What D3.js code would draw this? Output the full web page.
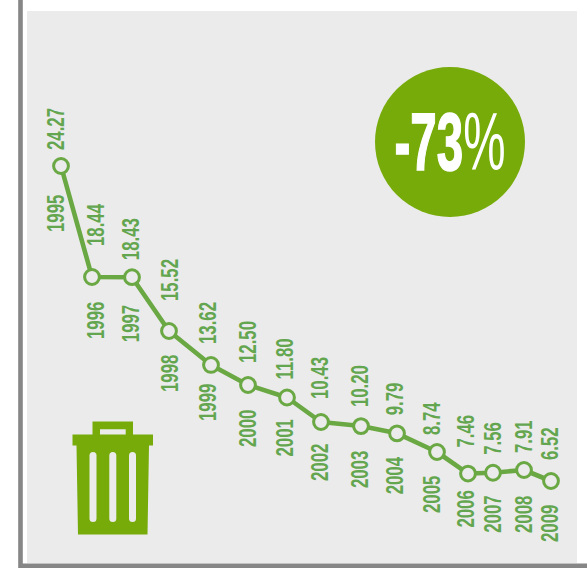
<!DOCTYPE html>
<html>
<head>
<meta charset="utf-8">
<style>
  html, body { margin: 0; padding: 0; background: #fff; }
  svg { display: block; }
  text { font-family: "Liberation Sans", sans-serif; }
</style>
</head>
<body>
<svg id="chart" width="587" height="568"></svg>
<script src="https://cdn.jsdelivr.net/npm/d3@7/dist/d3.min.js"></script>
<script>
// Landfill rate by year
const years = [1995, 1996, 1997, 1998, 1999, 2000, 2001, 2002, 2003, 2004, 2005, 2006, 2007, 2008, 2009];
const values = [24.27, 18.44, 18.43, 15.52, 13.62, 12.50, 11.80, 10.43, 10.20, 9.79, 8.74, 7.46, 7.56, 7.91, 6.52];
const valueLabels = ["24.27", "18.44", "18.43", "15.52", "13.62", "12.50", "11.80", "10.43", "10.20", "9.79", "8.74", "7.46", "7.56", "7.91", "6.52"];
const badgeText = "-73";
const badgeUnit = "%";

// Hand-drawn horizontal rhythm: widths of the steps between consecutive years
const yearSteps = [31, 40, 37, 42, 37, 39, 34, 40, 36, 40, 31, 25, 31, 27];
// Vertical scale of the infographic is stretched by hand between these values
const yKnotValues = [6.52, 7.91, 8.74, 10.43, 15.52, 18.44, 24.27];
const yKnotPixels = [481, 470, 452, 422, 331, 277, 166];

// Label placement around each marker
const labelShift = [3, 12, 7, 9, 4.5, 7.5, 5.5, 7, 7, 6, 3, 6, 8, 7.5, 7];
const valueLift = [16, 31, 17, 30, 21, 22, 18, 23, 19, 18, 17, 26, 18, 17, 21];
const yearDrop = [66, 62, 65, 61, 56, 62, 59, 59, 62, 61, 61, 54, 60, 63, 61];

const GREY = "#868686", PANEL = "#ebebeb", LINE = "#6aa843", LABEL = "#63a64f", OLIVE = "#76ab09";

const svg = d3.select("#chart");

// Panel and the L-shaped frame
svg.append("rect").attr("x", 27).attr("y", 11).attr("width", 550).attr("height", 552).attr("fill", PANEL);
svg.append("path")
  .attr("d", d3.line()([[20.5, 0], [20.5, 565.8], [587, 565.8]]))
  .attr("fill", "none").attr("stroke", GREY).attr("stroke-width", 4.6);

// Scales
const stepPositions = d3.cumsum(yearSteps);
const x = d3.scaleLinear()
  .domain(years)
  .range([61, ...Array.from(stepPositions, d => 61 + d)]);
const y = d3.scaleLinear().domain(yKnotValues).range(yKnotPixels);

const points = years.map((year, i) => ({ year, value: values[i], label: valueLabels[i], i }));

// Trend line
svg.append("path")
  .datum(points)
  .attr("fill", "none")
  .attr("stroke", LINE)
  .attr("stroke-width", 4.6)
  .attr("stroke-linejoin", "round")
  .attr("d", d3.line().x(d => x(d.year)).y(d => y(d.value)));

// Markers
svg.append("g").selectAll("circle").data(points).join("circle")
  .attr("cx", d => x(d.year))
  .attr("cy", d => y(d.value))
  .attr("r", 7.4)
  .attr("fill", PANEL)
  .attr("stroke", LINE)
  .attr("stroke-width", 3);

// Rotated value and year labels
function rotatedLabels(cls, text, offset) {
  svg.append("g").selectAll("text").data(points).join("text")
    .attr("class", cls)
    .attr("transform", d => `translate(${x(d.year) + labelShift[d.i]},${y(d.value) + offset(d)}) rotate(-90) scale(0.7,1)`)
    .attr("font-size", 24)
    .attr("font-weight", 700)
    .attr("fill", LABEL)
    .text(text);
}
rotatedLabels("value-label", d => d.label, d => -valueLift[d.i]);
rotatedLabels("year-label", d => d.year, d => yearDrop[d.i]);

// Percentage badge
const badge = svg.append("g").attr("transform", "translate(450,142)");
badge.append("circle").attr("r", 75).attr("fill", OLIVE);
const badgeLabel = badge.append("text")
  .attr("transform", "translate(-55.5,27.5) scale(0.58,1)")
  .attr("font-size", 82)
  .attr("fill", "#fff");
badgeLabel.append("tspan").attr("font-weight", 700).attr("stroke", "#fff").attr("stroke-width", 1.5).text(badgeText);
badgeLabel.append("tspan").attr("font-weight", 400).text(badgeUnit);

// Waste bin pictogram
const bin = svg.append("g").attr("fill", OLIVE);
bin.append("path")
  .attr("fill-rule", "evenodd")
  .attr("d", "M92.5 421.5H133V434.5H153V445.5H149L147.5 534.5H78L76.5 445.5H72.5V434.5H92.5ZM100 429.3V434.5H125.7V429.3Z");
bin.selectAll("rect").data([89.5, 109.3, 129]).join("rect")
  .attr("x", d => d).attr("y", 452).attr("width", 7).attr("height", 70).attr("rx", 3.5)
  .attr("fill", PANEL);
</script>
</body>
</html>
